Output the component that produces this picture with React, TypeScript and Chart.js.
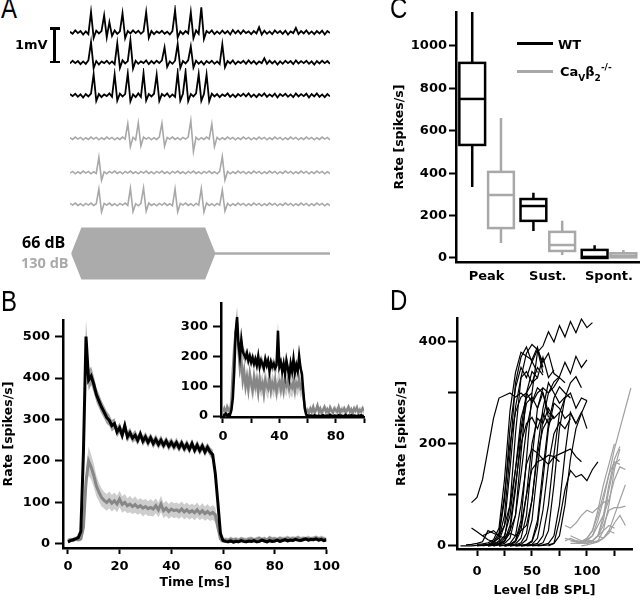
import React, { useEffect, useRef } from "react";
import { Chart, registerables } from "chart.js";
Chart.register(...registerables);

// ---------------- Panel A: example recordings (µV, 100 samples each) ----------------
const wtTrace1 = [20,-40,60,-20,40,-60,30,-50,600,-160,
  50,-30,40,500,-140,300,-100,60,-40,30,
  560,-170,40,-30,60,-20,50,-40,30,590,
  -160,40,-50,30,-20,50,-40,20,-60,40,
  650,-150,30,-50,40,-30,590,-170,60,-40,
  730,-190,40,-20,60,-50,30,-40,50,-30,
  40,-60,70,-30,50,-40,60,-20,30,-50,
  40,-30,150,-60,50,-40,30,-50,60,-20,
  40,-40,50,-60,30,-20,130,-50,40,-30,
  60,-40,30,-50,40,-30,50,-60,40,-20];
const wtTrace2 = [-30,50,-20,40,-50,30,-40,60,590,-170,
  40,-60,30,-20,50,-40,30,-50,560,-160,
  60,-30,40,650,-180,50,-40,30,-20,60,
  -50,40,-30,50,-20,60,440,-130,30,-40,
  50,530,-160,40,-30,60,470,-150,50,-40,
  30,-60,40,-20,50,-40,30,-50,530,-140,
  40,-30,60,-50,30,-20,50,-40,60,-30,
  40,-50,30,-20,120,-40,50,-30,40,-60,
  30,-40,50,-20,40,-50,60,-30,40,-20,
  50,-40,30,-60,40,-30,50,-20,40,-40];
const wtTrace3 = [40,-20,50,-40,30,-60,40,-30,50,620,
  -160,40,-50,30,-20,60,-40,610,-150,50,
  -30,40,640,-170,30,-50,60,-40,650,-150,
  40,-30,50,600,-160,40,-20,60,-50,30,
  -40,660,-150,50,690,-170,40,-30,60,620,
  -160,40,610,-170,50,-30,40,-50,30,-20,
  60,-40,30,-50,40,-20,50,-30,60,-40,
  30,-50,40,-20,60,-40,30,-30,50,-60,
  40,-20,50,-40,30,-50,60,-30,40,-20,
  50,-60,40,-30,60,-40,30,-50,40,-30];
const koTrace1 = [20,-30,40,-20,30,-40,20,-30,40,-20,
  30,-40,20,-30,40,-20,30,-40,20,-30,
  40,-20,430,-240,30,-40,450,-220,40,-20,
  30,-40,20,-30,40,440,-230,30,-20,40,
  -30,20,-40,30,-20,40,520,-380,30,-40,
  20,-30,40,-20,420,-240,30,-40,20,-30,
  40,-20,30,-40,20,-30,40,-20,30,-40,
  20,-30,40,-20,30,-40,20,-30,40,-20,
  30,-40,20,-30,40,-20,30,-40,20,-30,
  40,-20,30,-40,20,-30,40,-20,30,-40];
const koTrace2 = [-20,30,-40,20,-30,40,-20,30,-40,20,
  -30,440,-230,20,-40,30,-20,40,-30,20,
  -40,30,-20,40,-30,20,-40,30,-20,40,
  -30,20,-40,30,-20,40,-30,20,-40,30,
  -20,40,-30,20,-40,30,-20,40,-30,20,
  -40,30,-20,40,-30,20,-40,30,460,-220,
  30,-40,20,-30,40,-20,30,-40,20,-30,
  40,-20,30,-40,20,-30,40,-20,30,-40,
  20,-30,40,-20,30,-40,20,-30,40,-20,
  30,-40,20,-30,40,-20,30,-40,20,-30];
const koTrace3 = [30,-20,40,-30,20,-40,30,-20,40,-30,
  20,450,-220,30,-20,40,-30,20,-40,30,
  -20,40,-30,470,-210,20,-40,30,480,-200,
  40,-30,20,-40,30,-20,40,-30,20,-40,
  450,-220,30,-20,40,-30,20,-40,30,-20,
  460,-220,40,-30,20,-40,30,-20,420,-190,
  30,-40,20,-30,40,-20,30,-40,20,-30,
  40,-20,30,-40,20,-30,40,-20,30,-40,
  20,-30,40,-20,30,-40,20,-30,40,-20,
  30,-40,20,-30,40,-20,30,-40,20,-30];
const stimTimes = [0.8, 4.6, 51.2, 55, 99];
const stimEnvelope = [0, 1, 1, 0, 0];

// ---------------- Panel B: PSTH (1 ms bins, 0..100 ms) ----------------
const psthWtMean = [5,8,10,12,15,
  30,220,500,395,405,
  385,360,345,330,318,
  305,298,285,290,270,
  280,262,285,258,268,
  255,262,250,265,248,
  258,245,256,242,252,
  240,250,238,248,236,
  245,235,244,232,243,
  230,240,228,242,226,
  238,225,236,222,233,
  222,215,170,100,25,
  8,6,5,7,4,
  6,5,8,6,5,
  7,6,8,5,6,
  9,7,5,8,6,
  7,9,6,8,10,
  7,9,8,11,9,
  8,10,12,9,11,
  10,12,9,11,8,
  10];
const psthWtSem = [4,4,5,5,5,
  8,25,40,25,22,
  20,18,17,16,15,
  15,14,14,13,13,
  13,14,13,13,12,
  12,13,12,12,12,
  12,12,11,12,12,
  11,12,11,11,12,
  11,11,12,11,11,
  11,12,11,11,11,
  12,11,11,12,11,
  11,12,15,15,10,
  5,4,4,4,4,
  4,4,4,4,4,
  4,4,4,4,4,
  4,4,4,4,4,
  4,4,4,4,4,
  4,4,4,4,4,
  4,4,4,4,4,
  4,4,4,4,4,
  5];
const psthKoMean = [8,10,9,12,10,
  12,40,150,200,185,
  165,140,125,112,105,
  100,106,98,104,96,
  108,95,100,92,96,
  90,95,88,92,86,
  90,85,88,84,92,
  82,96,80,86,78,
  84,80,82,78,84,
  77,82,76,80,75,
  82,74,80,73,78,
  72,76,70,40,12,
  8,10,8,12,9,
  11,8,12,10,9,
  11,12,9,11,13,
  10,12,9,14,11,
  12,10,13,11,12,
  14,11,13,12,15,
  11,13,12,14,11,
  13,15,12,14,12,
  10];
const psthKoSem = [5,5,5,5,5,
  6,15,30,35,30,
  28,25,22,22,20,
  20,20,20,20,20,
  20,20,20,18,20,
  18,20,18,18,20,
  18,18,20,18,18,
  18,20,18,18,18,
  18,18,18,18,18,
  18,18,18,17,18,
  18,17,18,17,18,
  17,18,18,12,8,
  6,6,6,6,6,
  6,6,6,6,6,
  6,6,6,6,6,
  6,6,6,6,6,
  6,6,6,6,6,
  6,6,6,6,6,
  6,6,6,6,6,
  6,6,6,6,6,
  6];
// inset: single-unit example
const insetWtMean = [5,3,8,2,6,
  4,20,60,150,280,
  330,240,200,255,215,
  205,195,210,185,200,
  180,195,175,190,170,
  200,165,185,175,160,
  190,170,185,150,180,
  165,175,160,170,285,
  165,180,150,175,140,
  185,160,130,175,150,
  190,145,170,150,200,
  160,140,80,25,5,
  2,0,2,1,0,
  3,1,0,2,0,
  1,3,0,1,2,
  0,4,1,0,2,
  1,0,3,1,2,
  0,1,4,0,2,
  1,3,0,2,1,
  0,2,1,3,0,
  1];
const insetWtSem = [3,3,3,3,3,
  3,10,20,30,35,
  35,30,25,25,22,
  20,20,20,20,20,
  20,20,20,20,20,
  20,20,20,20,20,
  20,20,20,20,20,
  20,20,20,20,30,
  20,20,20,20,20,
  20,20,20,20,20,
  20,20,20,20,22,
  20,20,15,10,3,
  3,3,3,3,3,
  3,3,3,3,3,
  3,3,3,3,3,
  3,3,3,3,3,
  3,3,3,3,3,
  3,3,3,3,3,
  3,3,3,3,3,
  3,3,3,3,3,
  3];
const insetKoMean = [15,25,10,30,20,
  15,50,150,230,280,
  300,220,160,190,120,
  150,100,130,90,140,
  110,85,130,100,120,
  80,125,95,110,75,
  120,100,90,130,85,
  110,95,120,80,105,
  115,90,125,85,110,
  100,120,90,105,95,
  115,85,110,100,120,
  95,105,70,30,15,
  20,10,25,15,30,
  12,20,35,15,25,
  10,20,30,15,22,
  10,28,18,12,25,
  20,15,30,10,22,
  18,25,12,20,30,
  15,22,10,25,18,
  28,12,20,15,25,
  18];
const insetKoSem = [12,15,12,15,12,
  12,20,35,40,40,
  40,38,36,36,35,
  35,35,35,35,35,
  35,35,35,35,35,
  35,35,35,35,35,
  35,35,35,35,35,
  35,35,35,35,35,
  35,35,35,35,35,
  35,35,35,35,35,
  35,35,35,35,35,
  35,35,30,20,12,
  12,12,12,12,12,
  12,12,12,12,12,
  12,12,12,12,12,
  12,12,12,12,12,
  12,12,12,12,12,
  12,12,12,12,12,
  12,12,12,12,12,
  12,12,12,12,12,
  12];
const bTimeTicks = [0, 20, 40, 60, 80, 100];
const bRateTicks = [0, 100, 200, 300, 400, 500];
const insetTimeTicks = [0, 20, 40, 60, 80, 100];
const insetTimeLabels = [0, 40, 80];
const insetRateTicks = [0, 100, 200, 300];

// ---------------- Panel C: box plots ----------------
const boxCategories = ["Peak", "Sust.", "Spont."];
const boxRateTicks = [0, 200, 400, 600, 800, 1000];
const wtMin = [335, 127, 0];
const wtQ1 = [533, 175, 0];
const wtMedian = [750, 245, 5];
const wtQ3 = [920, 278, 38];
const wtMax = [1160, 307, 60];
const koMin = [71, 14, 0];
const koQ1 = [141, 33, 3];
const koMedian = [297, 61, 10];
const koQ3 = [406, 123, 22];
const koMax = [660, 175, 38];

// ---------------- Panel D: rate-level functions (5 dB steps) ----------------
const levelTicks = [0, 25, 50, 75, 100, 125];
const levelLabels = [0, 50, 100];
const rlRateTicks = [0, 100, 200, 300, 400];
const rlRateLabels = [0, 200, 400];
const wtStarts = [-5,-5,0,0,5,5,10,10,15,15,20,20,25,25,30,30,35,35,40,40,45,50,55,65,-15,-10,5,20,25];
const wtRates = [
  [85,95,130,190,250,290,295,300,292,300,290],
  [35,28,20,12,8,15,60,180,320,370,390,360,385,340],
  [3,4,6,12,35,130,265,340,380,372,365,390,350],
  [0,1,2,3,5,15,80,220,330,378,395,385,360,378,338,330],
  [0,2,5,20,90,230,310,350,330,362,340],
  [1,3,8,25,100,200,262,292,300,282,310,300,252],
  [0,2,10,40,150,272,330,342,320,350,335],
  [0,1,3,8,30,110,220,280,292,270,300,262,250],
  [0,2,5,15,60,180,300,342,330,370,330,345],
  [0,3,10,40,120,200,240,252,230,260,240,255],
  [0,1,3,10,50,170,300,380,392,420,400,432,410,440,418,445,428,438],
  [0,2,5,20,80,160,190,182,170,160,175,165],
  [0,1,4,15,60,170,270,310,300,322,332,360,338,372,350,365],
  [0,2,8,30,100,200,250,240,270,250,262],
  [0,1,3,12,50,150,250,300,312,330,320],
  [0,2,6,25,90,190,270,320,300,280,292],
  [0,1,2,8,40,130,230,280,270,250,260,240],
  [0,1,3,10,50,150,240,290,312,300,290],
  [0,1,2,5,20,80,180,260,290,300,270,290,285],
  [0,1,3,15,70,160,220,242,230,250],
  [0,1,2,6,30,120,230,290,320,332,310],
  [0,1,2,5,20,80,180,262,240,262,230],
  [0,1,2,5,20,80,170,230,260,285],
  [0,5,50,110,148,135,140,128,150,165],
  [0,0,0,1,2,2,5,8,20,60,150,250,290,300],
  [2,3,5,8,30,25,20,40,80,150,230,300,320,330],
  [20,25,30,20,15,30,60,140,230,280,300,310],
  [5,10,25,20,30,40,90,180,230,250],
  [0,2,10,40,100,150,165,170,178,175,180,185,190,175,165],
];
const koStarts = [85,80,90,85,95,80,100,85,90,95,100,105,80];
const koRates = [
  [10,8,6,10,20,50,90,140,190,230,270,310],
  [15,12,10,8,15,30,70,120,160,200],
  [5,8,15,30,60,100,140,165,160],
  [20,15,10,12,20,40,60,90,130,155,150],
  [5,5,10,20,40,70,75,75,78],
  [40,35,45,60,70,65,75,85,90],
  [5,8,10,15,30,60,90,120],
  [5,5,5,8,10,20,30,40,35],
  [10,5,10,5,8,15,25,45,60,40],
  [0,2,5,10,30,80,150,190],
  [5,10,20,50,110,160,170],
  [10,20,60,120,170,195],
  [10,15,10,8,12,10,20,15,30,25],
];

// ---------------- helpers ----------------
const TICK_FONT = { family: "DejaVu Sans", weight: "bold" as const, size: 13 };
const TITLE_FONT = { family: "DejaVu Sans", weight: "bold" as const, size: 12.5 };
const BLACK_BAND = "#a0a0a0";
const KO_LINE = "#878787";
const KO_BAND = "#cdcdcd";
const KO_LIGHT = "#a8a8a8";

const seq = (vals: number[]) => vals.map((v, i) => ({ x: i, y: v }));

type AxisSpec = {
  min: number; max: number; ticks: number[]; labels?: number[]; size: number; tickLength: number; padding: number;
  horizontal: boolean; title?: string; titlePad?: number;
};
function makeAxis(s: AxisSpec): any {
  const shown = s.labels || s.ticks;
  return {
    type: "linear",
    position: s.horizontal ? "bottom" : "left",
    min: s.min,
    max: s.max,
    afterFit: (sc: any) => { if (s.horizontal) sc.height = s.size; else sc.width = s.size; },
    afterBuildTicks: (sc: any) => { sc.ticks = s.ticks.map((v) => ({ value: v })); },
    border: { display: true, color: "#000", width: 2.5 },
    grid: { display: true, drawOnChartArea: false, drawTicks: true, tickLength: s.tickLength, tickWidth: 2, tickColor: "#000" },
    ticks: {
      autoSkip: false, maxRotation: 0, padding: s.padding,
      font: TICK_FONT, color: "#000",
      callback: (v: number) => (shown.indexOf(v) >= 0 ? String(v) : ""),
    },
    title: s.title
      ? { display: true, text: s.title, font: TITLE_FONT, color: "#000",
          padding: s.horizontal ? { top: 0, bottom: s.titlePad } : { top: s.titlePad, bottom: 0 } }
      : { display: false },
  };
}

function baseOptions(padding: any, scales: any): any {
  return {
    responsive: false, animation: false, devicePixelRatio: 1, events: [],
    layout: { padding },
    plugins: { legend: { display: false }, tooltip: { enabled: false } },
    scales,
  };
}

function ChartCanvas({ left, top, width, height, make }: { left: number; top: number; width: number; height: number; make: () => any }) {
  const ref = useRef<HTMLCanvasElement>(null);
  useEffect(() => {
    const chart = new Chart(ref.current as HTMLCanvasElement, make());
    return () => chart.destroy();
  }, []);
  return <canvas ref={ref} width={width} height={height} style={{ position: "absolute", left, top, width, height }} />;
}

// ---------------- chart configs ----------------
function traceConfig(values: number[], color: string, lw: number) {
  return {
    type: "line",
    data: { datasets: [{ data: seq(values), borderColor: color, borderWidth: lw, pointRadius: 0, tension: 0 }] },
    options: baseOptions(0, {
      x: { type: "linear", display: false, min: 0, max: 99 },
      y: { type: "linear", display: false, min: -600, max: 800 },
    }),
  };
}

function stimConfig() {
  const upper = stimTimes.map((t, i) => ({ x: t, y: stimEnvelope[i] }));
  const lower = stimTimes.map((t, i) => ({ x: t, y: -stimEnvelope[i] }));
  return {
    type: "line",
    data: {
      datasets: [
        { data: upper, borderColor: "#ababab", backgroundColor: "#ababab", borderWidth: 2, pointRadius: 0, fill: "+1" },
        { data: lower, borderColor: "#ababab", borderWidth: 2, pointRadius: 0, fill: false },
      ],
    },
    options: baseOptions(0, {
      x: { type: "linear", display: false, min: 0, max: 99 },
      y: { type: "linear", display: false, min: -1.1, max: 1.1 },
    }),
  };
}

function psthDatasets(wtM: number[], wtS: number[], koM: number[], koS: number[], lw: number) {
  return [
    { data: seq(wtM), borderColor: "#000", borderWidth: lw, pointRadius: 0, fill: false, order: 1 },
    { data: seq(koM), borderColor: KO_LINE, borderWidth: lw, pointRadius: 0, fill: false, order: 2 },
    { data: seq(wtM.map((v, i) => v + wtS[i])), borderWidth: 0, pointRadius: 0, backgroundColor: BLACK_BAND, fill: "+1", order: 3 },
    { data: seq(wtM.map((v, i) => Math.max(0, v - wtS[i]))), borderWidth: 0, pointRadius: 0, fill: false, order: 3 },
    { data: seq(koM.map((v, i) => v + koS[i])), borderWidth: 0, pointRadius: 0, backgroundColor: KO_BAND, fill: "+1", order: 4 },
    { data: seq(koM.map((v, i) => Math.max(0, v - koS[i]))), borderWidth: 0, pointRadius: 0, fill: false, order: 4 },
  ];
}

function psthMainConfig() {
  return {
    type: "line",
    data: { datasets: psthDatasets(psthWtMean, psthWtSem, psthKoMean, psthKoSem, 3) },
    options: baseOptions({ left: 0, right: 15, top: 30, bottom: 0 }, {
      x: makeAxis({ min: -1.9, max: 100, ticks: bTimeTicks, size: 52, tickLength: 6, padding: 5, horizontal: true, title: "Time [ms]", titlePad: 9.5 }),
      y: makeAxis({ min: -10, max: 540, ticks: bRateTicks, size: 63, tickLength: 8, padding: 5, horizontal: false, title: "Rate [spikes/s]", titlePad: 1 }),
    }),
  };
}

function psthInsetConfig() {
  return {
    type: "line",
    data: { datasets: psthDatasets(insetWtMean, insetWtSem, insetKoMean, insetKoSem, 2.5) },
    options: baseOptions({ left: 0, right: 2, top: 10, bottom: 0 }, {
      x: makeAxis({ min: -1.4, max: 100, ticks: insetTimeTicks, labels: insetTimeLabels, size: 33, tickLength: 6, padding: 6, horizontal: true }),
      y: makeAxis({ min: -3, max: 378, ticks: insetRateTicks, size: 51, tickLength: 8, padding: 5, horizontal: false }),
    }),
  };
}

const boxPlugin = {
  id: "boxPlot",
  afterDatasetsDraw(chart: any) {
    const { ctx, scales } = chart;
    const xs = scales.x, ys = scales.y;
    const step = xs.getPixelForValue(1) - xs.getPixelForValue(0);
    const w = step * 0.47;
    const draw = (i: number, lo: number, q1: number, med: number, q3: number, hi: number, color: string, side: number) => {
      const cx = xs.getPixelForValue(i);
      const x0 = side < 0 ? cx - w : cx;
      const x1 = x0 + w;
      const xm = (x0 + x1) / 2;
      const py = (v: number) => ys.getPixelForValue(v);
      ctx.save();
      ctx.strokeStyle = color;
      ctx.lineWidth = 2.5;
      ctx.beginPath();
      ctx.moveTo(xm, py(hi)); ctx.lineTo(xm, py(q3));
      ctx.moveTo(xm, py(q1)); ctx.lineTo(xm, py(lo));
      ctx.stroke();
      ctx.strokeRect(x0 + 1.5, py(q3), w - 3, py(q1) - py(q3));
      ctx.beginPath();
      ctx.moveTo(x0 + 1.5, py(med)); ctx.lineTo(x1 - 1.5, py(med));
      ctx.stroke();
      ctx.restore();
    };
    boxCategories.forEach((_, i) => {
      draw(i, wtMin[i], wtQ1[i], wtMedian[i], wtQ3[i], wtMax[i], "#000", -1);
      draw(i, koMin[i], koQ1[i], koMedian[i], koQ3[i], koMax[i], KO_LIGHT, 1);
    });
  },
};

function boxConfig() {
  return {
    type: "bar",
    data: { labels: boxCategories, datasets: [] },
    options: baseOptions({ left: 0, right: 0, top: 12, bottom: 0 }, {
      x: {
        type: "category", offset: true, position: "bottom",
        afterFit: (sc: any) => { sc.height = 38; },
        border: { display: true, color: "#000", width: 2.5 },
        grid: { display: false, drawTicks: false },
        ticks: { font: TICK_FONT, color: "#000", padding: 7, maxRotation: 0 },
      },
      y: makeAxis({ min: -19, max: 1160, ticks: boxRateTicks, size: 66, tickLength: 7, padding: 2, horizontal: false, title: "Rate [spikes/s]", titlePad: 2 }),
    }),
    plugins: [boxPlugin],
  };
}

function rateLevelConfig() {
  const curve = (start: number, rates: number[], color: string) => ({
    data: rates.map((r, k) => ({ x: start + 5 * k, y: r })),
    borderColor: color, borderWidth: 1.2, pointRadius: 0, tension: 0, fill: false,
  });
  return {
    type: "line",
    data: {
      datasets: [
        ...wtRates.map((r, i) => curve(wtStarts[i], r, "#000")),
        ...koRates.map((r, i) => curve(koStarts[i], r, "#a0a0a0")),
      ],
    },
    options: baseOptions({ left: 0, right: 8, top: 28, bottom: 0 }, {
      x: makeAxis({ min: -18.2, max: 141, ticks: levelTicks, labels: levelLabels, size: 51, tickLength: 7, padding: 8, horizontal: true, title: "Level [dB SPL]", titlePad: 2 }),
      y: makeAxis({ min: -6, max: 447, ticks: rlRateTicks, labels: rlRateLabels, size: 67, tickLength: 9, padding: 2, horizontal: false, title: "Rate [spikes/s]", titlePad: 4.5 }),
    }),
  };
}

// ---------------- App ----------------
const letterStyle = (left: number, top: number): React.CSSProperties => ({
  position: "absolute", left, top, fontFamily: "Liberation Sans, Arial, sans-serif", fontSize: 30,
  lineHeight: "30px", color: "#000", transform: "scaleX(0.8)", transformOrigin: "left top",
});

export default function App() {
  const traces: [number[], string, number, number][] = [
    [wtTrace1, "#000", 5, 1.8], [wtTrace2, "#000", 35, 1.8], [wtTrace3, "#000", 68, 1.8],
    [koTrace1, KO_LIGHT, 111, 1.6], [koTrace2, KO_LIGHT, 145, 1.6], [koTrace3, KO_LIGHT, 177, 1.6],
  ];
  return (
    <div style={{ position: "absolute", left: 0, top: 0, width: 640, height: 600, background: "#fff", overflow: "hidden" }}>
      {traces.map(([vals, color, top, lw], i) => (
        <ChartCanvas key={i} left={70} top={top} width={260} height={48} make={() => traceConfig(vals, color, lw)} />
      ))}
      <ChartCanvas left={70} top={226} width={260} height={55} make={stimConfig} />
      <ChartCanvas left={0} top={290} width={345} height={310} make={psthMainConfig} />
      <ChartCanvas left={170} top={290} width={200} height={160} make={psthInsetConfig} />
      <ChartCanvas left={390} top={0} width={250} height={300} make={boxConfig} />
      <ChartCanvas left={390} top={290} width={250} height={310} make={rateLevelConfig} />

      <div style={letterStyle(1, -7)}>A</div>
      <div style={letterStyle(1, 286)}>B</div>
      <div style={letterStyle(390, -7)}>C</div>
      <div style={letterStyle(390, 285)}>D</div>

      {/* 1 mV scale bar */}
      <div style={{ position: "absolute", left: 15, top: 38, fontFamily: "DejaVu Sans", fontWeight: "bold", fontSize: 13, lineHeight: "13px" }}>1mV</div>
      <div style={{ position: "absolute", left: 53, top: 28, width: 2.5, height: 34, background: "#000" }} />
      <div style={{ position: "absolute", left: 49.5, top: 27, width: 10, height: 2.5, background: "#000" }} />
      <div style={{ position: "absolute", left: 49.5, top: 60.5, width: 10, height: 2.5, background: "#000" }} />

      <div style={{ position: "absolute", left: 22, top: 234, fontFamily: "Open Sans", fontWeight: 700, fontSize: 16, lineHeight: "16px", color: "#000" }}>66 dB</div>
      <div style={{ position: "absolute", left: 21, top: 256, fontFamily: "Open Sans", fontWeight: 700, fontSize: 14.5, lineHeight: "14.5px", color: "#aaaaaa" }}>130 dB</div>

      {/* legend of panel C */}
      <div style={{ position: "absolute", left: 517, top: 41.5, width: 36, height: 3, background: "#000" }} />
      <div style={{ position: "absolute", left: 558, top: 38, fontFamily: "DejaVu Sans", fontWeight: "bold", fontSize: 13, lineHeight: "13px" }}>WT</div>
      <div style={{ position: "absolute", left: 517, top: 69.5, width: 36, height: 3, background: KO_LIGHT }} />
      <div style={{ position: "absolute", left: 560, top: 65, fontFamily: "DejaVu Sans", fontWeight: "bold", fontSize: 13, lineHeight: "13px", whiteSpace: "nowrap" }}>
        Ca<span style={{ fontSize: 9, position: "relative", top: 5 }}>V</span>β<span style={{ fontSize: 9, position: "relative", top: 5 }}>2</span><span style={{ fontSize: 9, position: "relative", top: -6 }}>-/-</span>
      </div>
    </div>
  );
}
